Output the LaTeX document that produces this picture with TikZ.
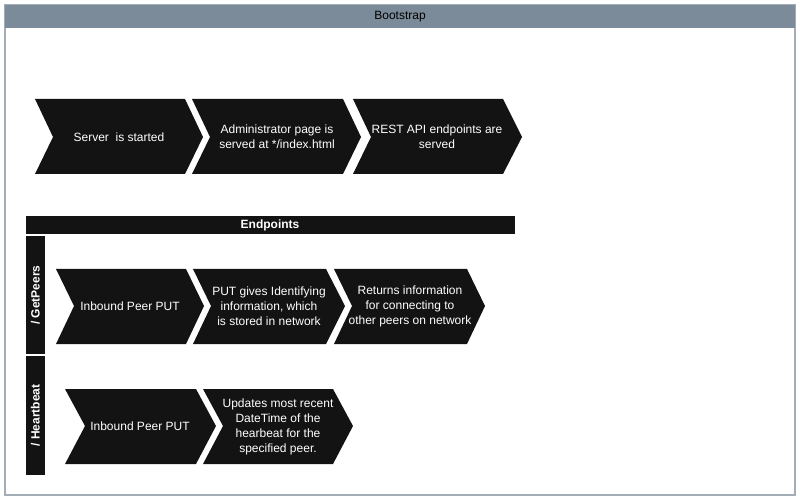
\documentclass[tikz,border=0pt]{standalone}
\usepackage{fontspec}
\setmainfont{Liberation Sans}
\usepackage{tikz}

\definecolor{headgray}{HTML}{7B8B99}
\definecolor{framegray}{HTML}{A3ADB7}
\definecolor{chevblack}{HTML}{131313}

\tikzset{
  chev/.style={fill=chevblack},
  lbl/.style={text=white, align=center, font=\fontsize{12}{15}\selectfont},
  bar/.style={fill=chevblack, draw=none},
  barlbl/.style={text=white, font=\fontsize{12}{14}\selectfont\bfseries}
}

\begin{document}
\begin{tikzpicture}[x=1pt,y=-1pt]
\useasboundingbox (0,0) rectangle (802,502);
% frame and title
\draw[framegray, line width=1.2pt] (5,5) rectangle (795,495);
\fill[headgray] (5,5) rectangle (795,28);
\node[font=\fontsize{12}{14}\selectfont] (title) at (400,16.5) {Bootstrap};
% bootstrap steps
\fill[chev] (35,99) -- (185,99) -- (203,137) -- (185,174) -- (35,174) -- (53,137) -- cycle;
\node[lbl] (start) at (119,137) {Server\ \ is started};
\fill[chev] (192,99) -- (343,99) -- (361,137) -- (343,174) -- (192,174) -- (210,137) -- cycle;
\node[lbl] (admin) at (277,137) {Administrator page is\\served at */index.html};
\fill[chev] (353,99) -- (503,99) -- (522,137) -- (503,174) -- (353,174) -- (371,137) -- cycle;
\node[lbl] (rest) at (437,137) {REST API endpoints are\\served};
% endpoints
\fill[bar] (26,216) rectangle (515,234);
\node[barlbl] (endpoints) at (270,225) {Endpoints};
\fill[bar] (26,236) rectangle (45,354);
\node[barlbl, rotate=90] (getpeers) at (35.5,295) {/ GetPeers};
\fill[bar] (26,356) rectangle (45,475);
\node[barlbl, rotate=90] (heartbeat) at (35.5,415.5) {/ Heartbeat};
% getpeers steps
\fill[chev] (56,269) -- (186,269) -- (204,306) -- (186,344) -- (56,344) -- (74,306) -- cycle;
\node[lbl] (inbound1) at (130,306) {Inbound Peer PUT};
\fill[chev] (193,269) -- (326,269) -- (345,306) -- (326,344) -- (193,344) -- (211,306) -- cycle;
\node[lbl] (identify) at (269,306) {PUT gives Identifying\\information, which\\is stored in network};
\fill[chev] (334,269) -- (467,269) -- (485,306) -- (467,344) -- (334,344) -- (352,306) -- cycle;
\node[lbl] (returns) at (410,306) {Returns information\\for connecting to\\other peers on network};
% heartbeat steps
\fill[chev] (65,389) -- (196,389) -- (216,426) -- (196,464) -- (65,464) -- (85,426) -- cycle;
\node[lbl] (inbound2) at (140,426) {Inbound Peer PUT};
\fill[chev] (203,389) -- (333,389) -- (353,426) -- (333,464) -- (203,464) -- (223,426) -- cycle;
\node[lbl] (updates) at (278,427) {Updates most recent\\DateTime of the\\hearbeat for the\\specified peer.};
\end{tikzpicture}
\end{document}
